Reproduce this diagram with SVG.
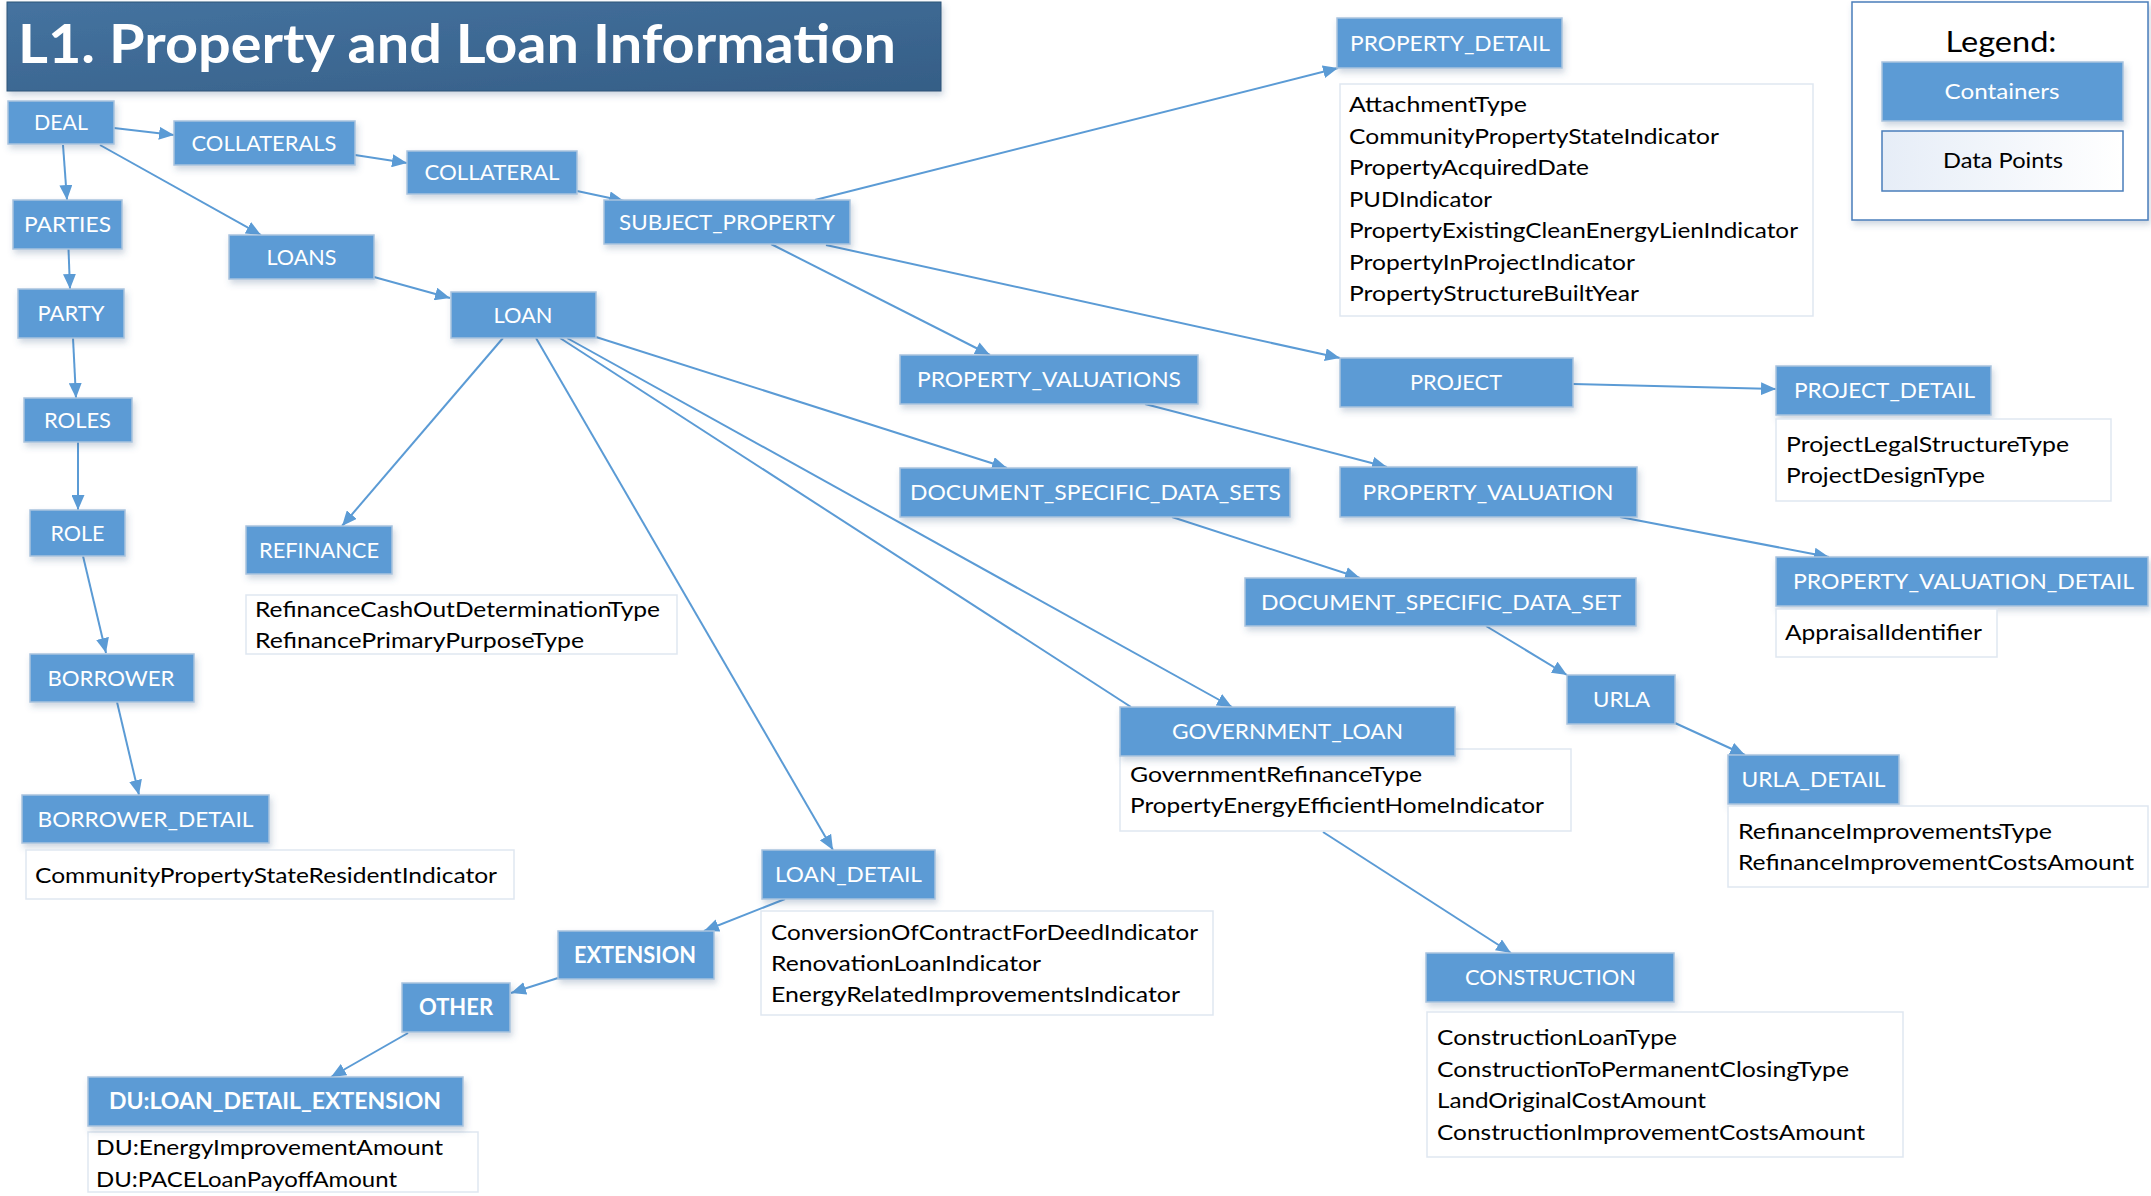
<svg xmlns="http://www.w3.org/2000/svg" width="2151" height="1196" viewBox="0 0 2151 1196">
<defs>
<linearGradient id="titleGrad" x1="0" y1="0" x2="1" y2="1">
<stop offset="0" stop-color="#4573a0"/>
<stop offset="1" stop-color="#355e86"/>
</linearGradient>
<linearGradient id="dpGrad" x1="0" y1="0" x2="1" y2="0">
<stop offset="0" stop-color="#e6edf7"/>
<stop offset="1" stop-color="#ffffff"/>
</linearGradient>
<filter id="sh" x="-10%" y="-20%" width="130%" height="160%">
<feDropShadow dx="2" dy="4" stdDeviation="3" flood-color="#3a5f86" flood-opacity="0.25"/>
</filter>
<marker id="arr" viewBox="0 0 15 13" markerUnits="userSpaceOnUse" markerWidth="15" markerHeight="13" refX="15" refY="6.5" orient="auto">
<path d="M0,0 L15,6.5 L0,13 z" fill="#5b9bd5"/>
</marker>
</defs>
<style>
.c rect{fill:#5b9bd5;stroke:#a9c3de;stroke-width:1.5;filter:url(#sh)}
.c text{font-family:Lato,"Liberation Sans",sans-serif;font-size:22px;fill:#ffffff;text-anchor:middle;lengthAdjust:spacingAndGlyphs}
.c text.b{font-weight:bold}
.d rect{fill:#ffffff;stroke:#dfe7f1;stroke-width:1.5}
.d text{font-family:Lato,"Liberation Sans",sans-serif;font-size:21px;fill:#000000}
.e line{stroke:#5b9bd5;stroke-width:2;fill:none}
.e line.a{marker-end:url(#arr)}
</style>
<rect width="2151" height="1196" fill="#ffffff"/>

<g id="title">
<rect x="7" y="2" width="934" height="89" fill="url(#titleGrad)" stroke="#2f5578" stroke-width="1" filter="url(#sh)"/>
<text x="18" y="63" font-family="Lato,'Liberation Sans',sans-serif" font-weight="bold" font-size="53" fill="#ffffff" textLength="878" lengthAdjust="spacingAndGlyphs">L1. Property and Loan Information</text>
</g>

<g id="legend">
<rect x="1852" y="2" width="296" height="218" fill="#ffffff" stroke="#4a7ebb" stroke-width="1.5" filter="url(#sh)"/>
<text x="2001" y="52" font-family="Lato,'Liberation Sans',sans-serif" font-size="28" fill="#000000" text-anchor="middle" textLength="111" lengthAdjust="spacingAndGlyphs">Legend:</text>
<rect x="1882" y="62" width="241" height="59" fill="#5b9bd5" stroke="#a9c3de" stroke-width="1.5" filter="url(#sh)"/>
<text x="2002" y="99" font-family="Lato,'Liberation Sans',sans-serif" font-size="22" fill="#ffffff" text-anchor="middle" textLength="115" lengthAdjust="spacingAndGlyphs">Containers</text>
<rect x="1882" y="131" width="241" height="60" fill="url(#dpGrad)" stroke="#4a7ebb" stroke-width="1.5"/>
<text x="2003" y="168" font-family="Lato,'Liberation Sans',sans-serif" font-size="22" fill="#000000" text-anchor="middle" textLength="120" lengthAdjust="spacingAndGlyphs">Data Points</text>
</g>

<g id="connectors" class="e">
<line class="a" x1="114" y1="128" x2="174" y2="135"/>
<line class="a" x1="355" y1="155" x2="407" y2="163"/>
<line class="a" x1="577" y1="191" x2="624" y2="201"/>
<line class="a" x1="63" y1="145" x2="67" y2="200"/>
<line class="a" x1="100" y1="145" x2="261" y2="235"/>
<line class="a" x1="68.5" y1="249" x2="70" y2="289"/>
<line class="a" x1="374" y1="277" x2="450" y2="298"/>
<line class="a" x1="73" y1="338" x2="76" y2="398"/>
<line class="a" x1="78" y1="442" x2="78" y2="510"/>
<line class="a" x1="83" y1="556" x2="106" y2="653"/>
<line class="a" x1="117" y1="702" x2="139" y2="795"/>
<line class="a" x1="503" y1="338" x2="342" y2="526"/>
<line class="a" x1="536" y1="338" x2="833" y2="850"/>
<line class="a" x1="596" y1="337" x2="1007" y2="468"/>
<line class="a" x1="567" y1="338" x2="1232" y2="707"/>
<line x1="560" y1="338" x2="1131" y2="707"/>
<line class="a" x1="815" y1="200" x2="1338" y2="68"/>
<line class="a" x1="771" y1="244" x2="990" y2="355"/>
<line class="a" x1="826" y1="245" x2="1340" y2="358"/>
<line class="a" x1="1573" y1="384" x2="1776" y2="389"/>
<line class="a" x1="1145" y1="404" x2="1387" y2="467"/>
<line class="a" x1="1620" y1="517" x2="1829" y2="557"/>
<line class="a" x1="1172" y1="517" x2="1360" y2="578"/>
<line class="a" x1="1486" y1="626" x2="1567" y2="675"/>
<line class="a" x1="1675" y1="723" x2="1745" y2="755"/>
<line class="a" x1="1323" y1="832" x2="1511" y2="953"/>
<line class="a" x1="785" y1="899" x2="704" y2="931"/>
<line class="a" x1="558" y1="978" x2="511" y2="993"/>
<line class="a" x1="408" y1="1033" x2="331" y2="1077"/>
</g>

<g id="DEAL" class="c"><rect x="8" y="101" width="106" height="43"/><text x="61" y="130" textLength="54" lengthAdjust="spacingAndGlyphs">DEAL</text></g>
<g id="COLLATERALS" class="c"><rect x="174" y="121" width="181" height="44"/><text x="264" y="151" textLength="145" lengthAdjust="spacingAndGlyphs">COLLATERALS</text></g>
<g id="COLLATERAL" class="c"><rect x="407" y="151" width="170" height="43"/><text x="492" y="180" textLength="135" lengthAdjust="spacingAndGlyphs">COLLATERAL</text></g>
<g id="SUBJECT_PROPERTY" class="c"><rect x="604" y="200" width="246" height="44"/><text x="727" y="230" textLength="216" lengthAdjust="spacingAndGlyphs">SUBJECT_PROPERTY</text></g>
<g id="PARTIES" class="c"><rect x="13" y="200" width="109" height="49"/><text x="67.5" y="232" textLength="87" lengthAdjust="spacingAndGlyphs">PARTIES</text></g>
<g id="LOANS" class="c"><rect x="229" y="235" width="145" height="44"/><text x="301.5" y="265" textLength="70" lengthAdjust="spacingAndGlyphs">LOANS</text></g>
<g id="PARTY" class="c"><rect x="18" y="289" width="106" height="49"/><text x="71" y="321" textLength="67" lengthAdjust="spacingAndGlyphs">PARTY</text></g>
<g id="LOAN" class="c"><rect x="451" y="292" width="145" height="46"/><text x="523" y="323" textLength="59" lengthAdjust="spacingAndGlyphs">LOAN</text></g>
<g id="ROLES" class="c"><rect x="24" y="398" width="108" height="44"/><text x="77.5" y="428" textLength="67" lengthAdjust="spacingAndGlyphs">ROLES</text></g>
<g id="ROLE" class="c"><rect x="30" y="510" width="95" height="46"/><text x="77.5" y="541" textLength="54" lengthAdjust="spacingAndGlyphs">ROLE</text></g>
<g id="BORROWER" class="c"><rect x="30" y="654" width="164" height="48"/><text x="111" y="686" textLength="127" lengthAdjust="spacingAndGlyphs">BORROWER</text></g>

<g id="REFINANCE">
<g class="c"><rect x="246" y="526" width="146" height="48"/><text x="319" y="558" textLength="120" lengthAdjust="spacingAndGlyphs">REFINANCE</text></g>
<g class="d"><rect x="246" y="595" width="431" height="59"/>
<text x="255" y="617" textLength="405" lengthAdjust="spacingAndGlyphs">RefinanceCashOutDeterminationType</text>
<text x="255" y="648" textLength="329" lengthAdjust="spacingAndGlyphs">RefinancePrimaryPurposeType</text></g>
</g>

<g id="BORROWER_DETAIL">
<g class="c"><rect x="22" y="795" width="247" height="48"/><text x="145.5" y="827" textLength="216" lengthAdjust="spacingAndGlyphs">BORROWER_DETAIL</text></g>
<g class="d"><rect x="26" y="850" width="488" height="49"/>
<text x="35" y="883" textLength="462" lengthAdjust="spacingAndGlyphs">CommunityPropertyStateResidentIndicator</text></g>
</g>

<g id="EXTENSION" class="c"><rect x="558" y="931" width="156" height="48"/><text class="b" x="635" y="963" textLength="122" lengthAdjust="spacingAndGlyphs">EXTENSION</text></g>
<g id="OTHER" class="c"><rect x="402" y="983" width="108" height="49"/><text class="b" x="456" y="1015" textLength="74" lengthAdjust="spacingAndGlyphs">OTHER</text></g>

<g id="DU_LOAN_DETAIL_EXTENSION">
<g class="d"><rect x="88" y="1132" width="390" height="60"/>
<text x="96" y="1155" textLength="347" lengthAdjust="spacingAndGlyphs">DU:EnergyImprovementAmount</text>
<text x="96" y="1187" textLength="301" lengthAdjust="spacingAndGlyphs">DU:PACELoanPayoffAmount</text></g>
<g class="c"><rect x="88" y="1077" width="375" height="49"/><text class="b" x="275" y="1109" textLength="332" lengthAdjust="spacingAndGlyphs">DU:LOAN_DETAIL_EXTENSION</text></g>
</g>

<g id="LOAN_DETAIL">
<g class="c"><rect x="762" y="850" width="173" height="49"/><text x="848.5" y="882" textLength="147" lengthAdjust="spacingAndGlyphs">LOAN_DETAIL</text></g>
<g class="d"><rect x="761" y="911" width="452" height="104"/>
<text x="771" y="940" textLength="427" lengthAdjust="spacingAndGlyphs">ConversionOfContractForDeedIndicator</text>
<text x="771" y="971" textLength="270" lengthAdjust="spacingAndGlyphs">RenovationLoanIndicator</text>
<text x="771" y="1002" textLength="409" lengthAdjust="spacingAndGlyphs">EnergyRelatedImprovementsIndicator</text></g>
</g>

<g id="PROPERTY_DETAIL">
<g class="c"><rect x="1337" y="18" width="225" height="50"/><text x="1450" y="51" textLength="200" lengthAdjust="spacingAndGlyphs">PROPERTY_DETAIL</text></g>
<g class="d"><rect x="1340" y="84" width="473" height="232"/>
<text x="1349" y="112" textLength="178" lengthAdjust="spacingAndGlyphs">AttachmentType</text>
<text x="1349" y="143.5" textLength="370" lengthAdjust="spacingAndGlyphs">CommunityPropertyStateIndicator</text>
<text x="1349" y="175" textLength="240" lengthAdjust="spacingAndGlyphs">PropertyAcquiredDate</text>
<text x="1349" y="206.5" textLength="143" lengthAdjust="spacingAndGlyphs">PUDIndicator</text>
<text x="1349" y="238" textLength="449" lengthAdjust="spacingAndGlyphs">PropertyExistingCleanEnergyLienIndicator</text>
<text x="1349" y="269.5" textLength="286" lengthAdjust="spacingAndGlyphs">PropertyInProjectIndicator</text>
<text x="1349" y="301" textLength="290" lengthAdjust="spacingAndGlyphs">PropertyStructureBuiltYear</text></g>
</g>

<g id="PROPERTY_VALUATIONS" class="c"><rect x="900" y="355" width="298" height="49"/><text x="1049" y="387" textLength="264" lengthAdjust="spacingAndGlyphs">PROPERTY_VALUATIONS</text></g>
<g id="DOCUMENT_SPECIFIC_DATA_SETS" class="c"><rect x="900" y="468" width="390" height="49"/><text x="1095.5" y="500" textLength="371" lengthAdjust="spacingAndGlyphs">DOCUMENT_SPECIFIC_DATA_SETS</text></g>
<g id="PROJECT" class="c"><rect x="1340" y="358" width="233" height="49"/><text x="1456" y="390" textLength="92" lengthAdjust="spacingAndGlyphs">PROJECT</text></g>

<g id="PROJECT_DETAIL">
<g class="c"><rect x="1776" y="366" width="215" height="49"/><text x="1884.5" y="398" textLength="181" lengthAdjust="spacingAndGlyphs">PROJECT_DETAIL</text></g>
<g class="d"><rect x="1776" y="419" width="335" height="82"/>
<text x="1786" y="452" textLength="283" lengthAdjust="spacingAndGlyphs">ProjectLegalStructureType</text>
<text x="1786" y="483" textLength="199" lengthAdjust="spacingAndGlyphs">ProjectDesignType</text></g>
</g>

<g id="PROPERTY_VALUATION" class="c"><rect x="1340" y="467" width="297" height="50"/><text x="1488" y="500" textLength="251" lengthAdjust="spacingAndGlyphs">PROPERTY_VALUATION</text></g>

<g id="PROPERTY_VALUATION_DETAIL">
<g class="c"><rect x="1776" y="557" width="372" height="49"/><text x="1963.5" y="589" textLength="341" lengthAdjust="spacingAndGlyphs">PROPERTY_VALUATION_DETAIL</text></g>
<g class="d"><rect x="1776" y="609" width="221" height="48"/>
<text x="1785" y="640" textLength="197" lengthAdjust="spacingAndGlyphs">AppraisalIdentifier</text></g>
</g>

<g id="DOCUMENT_SPECIFIC_DATA_SET" class="c"><rect x="1245" y="578" width="391" height="48"/><text x="1441" y="610" textLength="360" lengthAdjust="spacingAndGlyphs">DOCUMENT_SPECIFIC_DATA_SET</text></g>

<g id="GOVERNMENT_LOAN">
<g class="d"><rect x="1120" y="749" width="451" height="82"/>
<text x="1130" y="782" textLength="292" lengthAdjust="spacingAndGlyphs">GovernmentRefinanceType</text>
<text x="1130" y="813" textLength="414" lengthAdjust="spacingAndGlyphs">PropertyEnergyEfficientHomeIndicator</text></g>
<g class="c"><rect x="1120" y="707" width="335" height="49"/><text x="1287.5" y="739" textLength="231" lengthAdjust="spacingAndGlyphs">GOVERNMENT_LOAN</text></g>
</g>

<g id="URLA" class="c"><rect x="1567" y="675" width="108" height="49"/><text x="1621.5" y="707" textLength="57" lengthAdjust="spacingAndGlyphs">URLA</text></g>

<g id="URLA_DETAIL">
<g class="c"><rect x="1728" y="755" width="171" height="49"/><text x="1813.5" y="787" textLength="144" lengthAdjust="spacingAndGlyphs">URLA_DETAIL</text></g>
<g class="d"><rect x="1728" y="806" width="420" height="81"/>
<text x="1738" y="839" textLength="314" lengthAdjust="spacingAndGlyphs">RefinanceImprovementsType</text>
<text x="1738" y="870" textLength="396" lengthAdjust="spacingAndGlyphs">RefinanceImprovementCostsAmount</text></g>
</g>

<g id="CONSTRUCTION">
<g class="c"><rect x="1426" y="953" width="248" height="49"/><text x="1550.5" y="985" textLength="171" lengthAdjust="spacingAndGlyphs">CONSTRUCTION</text></g>
<g class="d"><rect x="1427" y="1012" width="476" height="145"/>
<text x="1437" y="1045" textLength="240" lengthAdjust="spacingAndGlyphs">ConstructionLoanType</text>
<text x="1437" y="1076.5" textLength="412" lengthAdjust="spacingAndGlyphs">ConstructionToPermanentClosingType</text>
<text x="1437" y="1108" textLength="269" lengthAdjust="spacingAndGlyphs">LandOriginalCostAmount</text>
<text x="1437" y="1139.5" textLength="428" lengthAdjust="spacingAndGlyphs">ConstructionImprovementCostsAmount</text></g>
</g>
</svg>
